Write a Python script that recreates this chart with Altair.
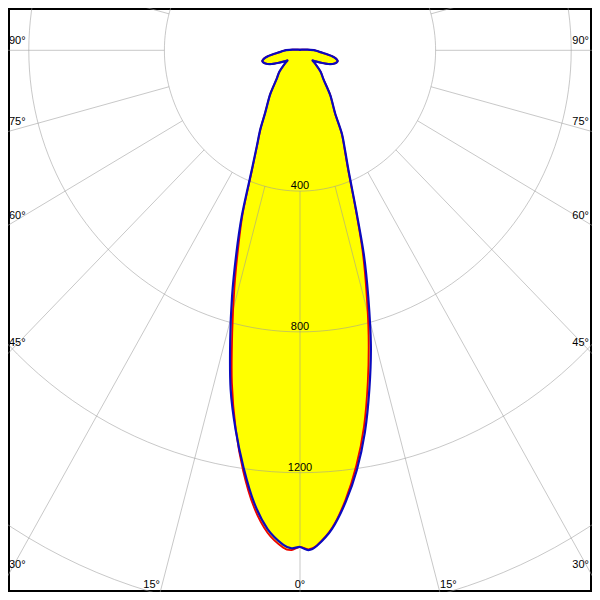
import math
import altair as alt
import pandas as pd

# ---------------- data (luminous intensity, cd) ----------------
gamma = [0, 1, 2, 4, 6, 8, 10, 12, 14, 16, 18, 20, 22.5, 25, 27.5, 30, 35, 40, 45,
         50, 52, 55, 60, 65, 70, 75, 80, 85, 90, 95, 100, 110, 120, 135, 150, 165, 180]
blue_left = [1411, 1415, 1406, 1364, 1293, 1197, 1094, 984, 851, 727, 608, 503, 376, 302, 254, 206, 154, 108, 86,
             57, 47, 54, 70, 92, 109, 115, 96, 60, 44, 20, 10, 5, 3, 2, 2, 2, 2]
blue_right = [1411, 1420, 1409, 1362, 1290, 1204, 1102, 984, 864, 731, 609, 485, 378, 315, 268, 208, 156, 108, 86,
              57, 47, 54, 70, 92, 109, 115, 96, 60, 44, 20, 10, 5, 3, 2, 2, 2, 2]
red_left = [1411, 1420, 1414, 1374, 1304, 1206, 1092, 966, 826, 702, 590, 495, 372, 300, 252, 206, 154, 108, 86,
            57, 47, 54, 70, 92, 109, 115, 96, 60, 44, 20, 10, 5, 3, 2, 2, 2, 2]
red_right = [1411, 1418, 1408, 1360, 1284, 1192, 1086, 962, 836, 710, 596, 480, 374, 312, 266, 206, 156, 108, 86,
             57, 47, 54, 70, 92, 109, 115, 96, 60, 44, 20, 10, 5, 3, 2, 2, 2, 2]

ring_values = [400, 800, 1200, 1600]
ring_labels = [400, 800, 1200]
spoke_angles = list(range(-180, 181, 15))
side_labels = [90, 75, 60, 45, 30]
bottom_labels = [15, 0]

# ---------------- geometry of the diagram ----------------
SX, SY = 0.339, 0.352          # px per cd, horizontal / vertical
CX, CY = 300.0, 50.3           # pole position in the 600x600 picture
W = H = 584                    # plot area (page has 8 px margin)
X0, Y0 = 8, 8
xdom = [(X0 - CX) / SX, (X0 + W - CX) / SX]
ydom = [(CY - (Y0 + H)) / SY, (CY - Y0) / SY]
xs = alt.Scale(domain=xdom, nice=False, zero=False)
ys = alt.Scale(domain=ydom, nice=False, zero=False)

# curve table
rows = []
for plane, left, right in [("red", red_left, red_right), ("blue", blue_left, blue_right)]:
    k = 0
    for g, v in zip(reversed(gamma), reversed(left)):
        rows.append(dict(plane=plane, k=k, theta=-g, I=v)); k += 1
    for g, v in zip(gamma[1:], right[1:]):
        rows.append(dict(plane=plane, k=k, theta=g, I=v)); k += 1
curve = pd.DataFrame(rows)

rings = pd.DataFrame([dict(r=r, a=a) for r in ring_values for a in range(0, 361, 2)])
spokes = pd.DataFrame(dict(a=spoke_angles, r0=400, r1=6000))
rlab = pd.DataFrame(dict(r=ring_labels, txt=[str(v) for v in ring_labels]))

POLAR = dict(px="datum.I*sin(datum.theta*PI/180)", py="-datum.I*cos(datum.theta*PI/180)")
INTERP = dict(interpolate="cardinal-closed", tension=0.2)

def pos(xf="px", yf="py"):
    return dict(x=alt.X(f"{xf}:Q", scale=xs, axis=None), y=alt.Y(f"{yf}:Q", scale=ys, axis=None))

fill = alt.Chart(curve).transform_calculate(**POLAR).mark_line(
    fill="#ffff00", stroke="#ffff00", strokeWidth=0.5, clip=True, **INTERP
).encode(**pos(), detail="plane:N", order="k:Q")

grid_rings = alt.Chart(rings).transform_calculate(
    px="datum.r*sin(datum.a*PI/180)", py="-datum.r*cos(datum.a*PI/180)"
).mark_line(color="#9a9a9a", opacity=0.55, strokeWidth=1, clip=True).encode(
    **pos(), detail="r:N", order="a:Q")

grid_spokes = alt.Chart(spokes).transform_calculate(
    px="datum.r0*sin(datum.a*PI/180)", py="-datum.r0*cos(datum.a*PI/180)",
    px2="datum.r1*sin(datum.a*PI/180)", py2="-datum.r1*cos(datum.a*PI/180)"
).mark_rule(color="#9a9a9a", opacity=0.55, strokeWidth=1, clip=True).encode(
    **pos(), x2="px2:Q", y2="py2:Q")

def outline(plane, color, width):
    return alt.Chart(curve).transform_filter(f"datum.plane == '{plane}'").transform_calculate(**POLAR).mark_line(
        color=color, strokeWidth=width, clip=True, **INTERP
    ).encode(**pos(), order="k:Q")

red_line = outline("red", "#ee0000", 1.8)
blue_line = outline("blue", "#0a0ac0", 2.2)

ring_text = alt.Chart(rlab).transform_calculate(px="0", py="-datum.r").mark_text(
    font="Liberation Sans", fontSize=11, color="black", baseline="alphabetic", dy=-2, clip=True
).encode(**pos(), text="txt:N")

# angle labels: positioned where each ray meets the frame
def ray_y_at_x(g, xpix):
    xc = abs(xpix - CX) / SX
    return -xc * math.cos(math.radians(g)) / math.sin(math.radians(g))

def ray_x_at_y(g, ypix):
    yc = (ypix - CY) / SY
    return yc * math.tan(math.radians(g))

side_l, side_r, bot_l, bot_r, bot_c = [], [], [], [], []
for g in side_labels:
    side_l.append(dict(t=f"{g}°", x=(9 - CX) / SX, y=ray_y_at_x(g, 9)))
    side_r.append(dict(t=f"{g}°", x=(589 - CX) / SX, y=ray_y_at_x(g, 591)))
ybot = (CY - 588) / SY
for g in bottom_labels:
    if g == 0:
        bot_c.append(dict(t="0°", x=0.0, y=ybot))
    else:
        xr = ray_x_at_y(g, 593)
        bot_r.append(dict(t=f"{g}°", x=-xr, y=ybot))   # left of its ray, right-aligned
        bot_l.append(dict(t=f"{g}°", x=xr, y=ybot))    # right of its ray, left-aligned

def label_layer(rows_, align, dy):
    return alt.Chart(pd.DataFrame(rows_)).mark_text(
        font="Liberation Sans", fontSize=11, color="black", align=align, baseline="alphabetic", dy=dy
    ).encode(x=alt.X("x:Q", scale=xs, axis=None), y=alt.Y("y:Q", scale=ys, axis=None), text="t:N")

chart = alt.layer(
    fill, grid_rings, grid_spokes, red_line, blue_line, ring_text,
    label_layer(side_l, "left", -6), label_layer(side_r, "right", -6),
    label_layer(bot_l, "left", 0), label_layer(bot_r, "right", 0), label_layer(bot_c, "center", 0)
).properties(
    width=W, height=H, padding=0, autosize="none", background="white"
).configure_view(stroke="black", strokeWidth=4)

chart.save("out.html", embed_options={"renderer": "svg", "actions": False})
